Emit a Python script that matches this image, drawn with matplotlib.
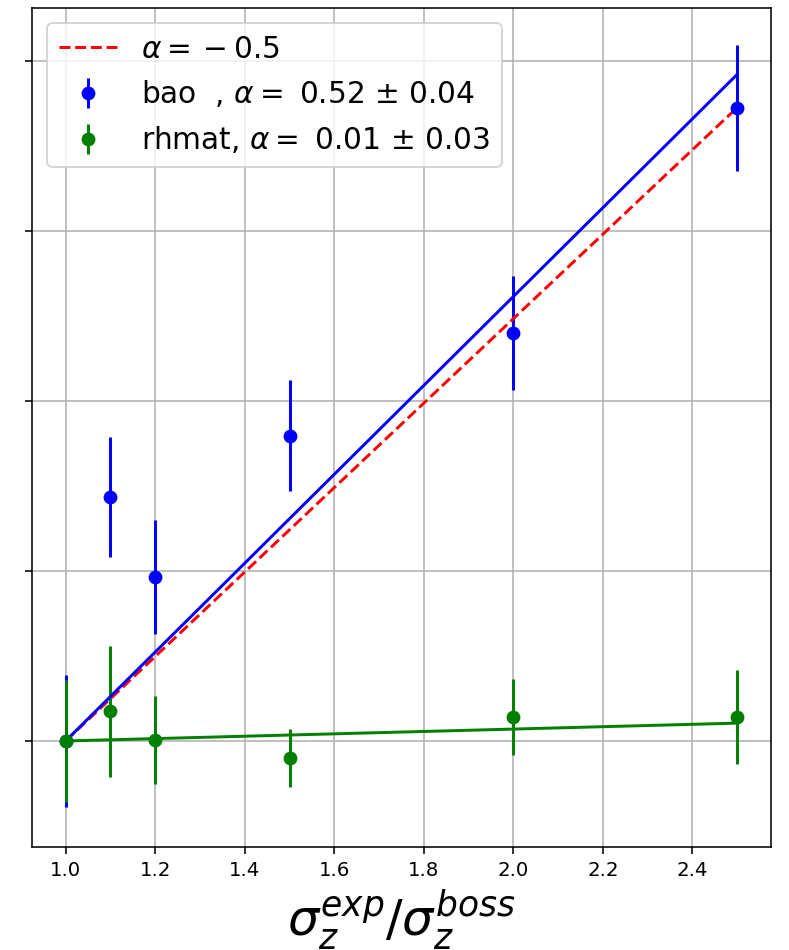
import matplotlib
matplotlib.use("Agg")
import matplotlib.pyplot as plt

# ── data ──────────────────────────────────────────────────────────────────────

ratio = [1.0, 1.1, 1.2, 1.5, 2.0, 2.5]

bao_y = [0.0, 0.287, 0.193, 0.359, 0.480, 0.744]
bao_err = [0.078, 0.071, 0.067, 0.065, 0.067, 0.074]

rhmat_y = [0.0, 0.035, 0.001, -0.020, 0.028, 0.028]
rhmat_err = [0.072, 0.077, 0.052, 0.034, 0.045, 0.055]

fit_x = [1.0, 2.5]
ref_fit = [0.0, 0.745]      # alpha = -0.5
bao_fit = [0.0, 0.784]
rhmat_fit = [0.0, 0.021]

xticks = [1.0, 1.2, 1.4, 1.6, 1.8, 2.0, 2.2, 2.4]
yticks = [0.0, 0.2, 0.4, 0.6, 0.8]

# ── plot ──────────────────────────────────────────────────────────────────────

DPI = 142
fig = plt.figure(figsize=(789 / DPI, 950 / DPI), dpi=DPI)
ax = fig.add_axes([0.0406, 0.1084, 0.9364, 0.8832])

ax.errorbar(ratio, bao_y, yerr=bao_err, fmt='o', color='blue',
            label=r'bao  , $\alpha =$ 0.52 $\pm$ 0.04')
ax.errorbar(ratio, rhmat_y, yerr=rhmat_err, fmt='o', color='green',
            label=r'rhmat, $\alpha =$ 0.01 $\pm$ 0.03')
ax.plot(fit_x, ref_fit, '--', color='red', label=r'$\alpha = {} - 0.5$')
ax.plot(fit_x, bao_fit, '-', color='blue')
ax.plot(fit_x, rhmat_fit, '-', color='green')

ax.set_xticks(xticks)
ax.set_yticks(yticks)
ax.set_yticklabels([])
ax.set_ylim(-0.1247, 0.862)
ax.grid(True)
ax.set_xlabel(r'$\sigma_z^{exp}/\sigma_z^{boss}$', fontsize=25)
ax.legend(loc='upper left', fontsize=15)

fig.savefig("out.png", dpi=DPI)
